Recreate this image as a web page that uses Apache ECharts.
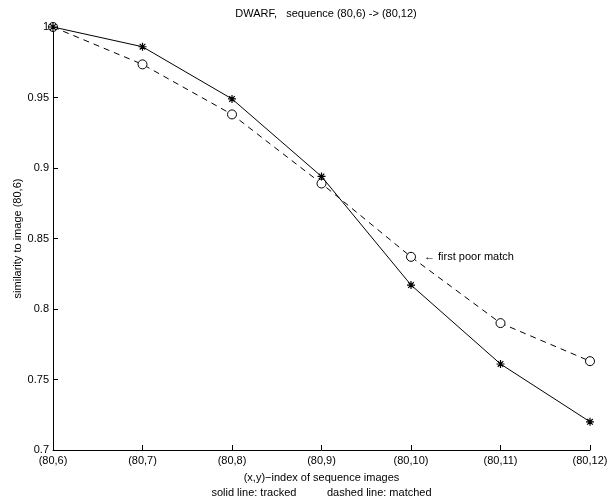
<!DOCTYPE html>
<html>
<head>
    <meta charset="utf-8">
    <title>DWARF sequence</title>
    <script src="https://cdn.jsdelivr.net/npm/echarts@6/dist/echarts.min.js"></script>
    <style type="text/css">
        body{ margin:0; background:#fff; }
    </style>
</head>
<body>
<div id="main" style="width:610px;height:500px;"></div>

<script type="text/javascript">
    // data
    var frames = ['(80,6)', '(80,7)', '(80,8)', '(80,9)', '(80,10)', '(80,11)', '(80,12)'];
    var tracked = [1.0, 0.986, 0.949, 0.894, 0.817, 0.761, 0.720];
    var matched = [1.0, 0.9735, 0.938, 0.889, 0.837, 0.790, 0.763];
    var yTicks = [0.7, 0.75, 0.8, 0.85, 0.9, 0.95, 1];

    var font = 'Liberation Sans';
    var asterisk = 'path://M0,-1L0,1M-1,0L1,0M-0.7,-0.7L0.7,0.7M-0.7,0.7L0.7,-0.7';

    var myChart = echarts.init(document.getElementById('main'));
    myChart.setOption({
        animation: false,
        textStyle: { fontFamily: font, color: '#000' },
        title: {
            text: 'DWARF,   sequence (80,6) -> (80,12)',
            left: 321, top: 3, textAlign: 'center',
            textStyle: { fontSize: 11, fontWeight: 'normal', color: '#000', fontFamily: font }
        },
        grid: { left: 53, right: 20, top: 27, bottom: 50, containLabel: false, outerBoundsMode: 'none' },
        xAxis: {
            type: 'category',
            data: frames,
            boundaryGap: false,
            name: '(x,y)\u2212index of sequence images\nsolid line: tracked          dashed line: matched',
            nameLocation: 'middle',
            nameGap: 18,
            nameTextStyle: { fontSize: 11, color: '#000', lineHeight: 15, fontFamily: font },
            axisLine: { lineStyle: { color: '#000', width: 1 } },
            axisTick: { inside: true, length: 5, lineStyle: { color: '#000' }, alignWithLabel: true },
            axisLabel: { fontSize: 11, color: '#000', margin: 5, fontFamily: font, showMaxLabel: true, showMinLabel: true },
            splitLine: { show: false }
        },
        yAxis: {
            type: 'value',
            min: 0.7, max: 1, interval: 0.05,
            name: 'similarity to image (80,6)',
            nameLocation: 'middle',
            nameGap: 30,
            nameMoveOverlap: false,
            nameRotate: 90,
            nameTextStyle: { fontSize: 11, color: '#000', fontFamily: font },
            axisLine: { show: true, lineStyle: { color: '#000', width: 1 } },
            axisTick: { show: true, inside: true, length: 5, lineStyle: { color: '#000' } },
            axisLabel: {
                fontSize: 11, color: '#000', margin: 4, fontFamily: font,
                formatter: function (v) {
                    for (var i = 0; i < yTicks.length; i++) {
                        if (Math.abs(v - yTicks[i]) < 1e-6) return String(yTicks[i]);
                    }
                    return '';
                }
            },
            splitLine: { show: false }
        },
        series: [{
            name: 'matched',
            type: 'line',
            data: matched,
            symbol: 'circle',
            symbolSize: 9,
            showAllSymbol: true,
            lineStyle: { color: '#000', width: 1, type: [6, 5] },
            itemStyle: { color: '#fff', borderColor: '#000', borderWidth: 1 },
            markPoint: {
                symbol: 'circle',
                symbolSize: 0,
                data: [{ coord: ['(80,10)', 0.837] }],
                label: {
                    show: true, position: 'right', distance: 13,
                    formatter: '\u2190 first poor match',
                    fontSize: 11, color: '#000', fontFamily: font
                }
            },
            z: 2
        }, {
            name: 'tracked',
            type: 'line',
            data: tracked,
            symbol: asterisk,
            symbolSize: 8,
            showAllSymbol: true,
            lineStyle: { color: '#000', width: 1 },
            itemStyle: { color: '#000', borderColor: '#000', borderWidth: 1.2 },
            z: 3
        }]
    });
</script>
</body>
</html>
